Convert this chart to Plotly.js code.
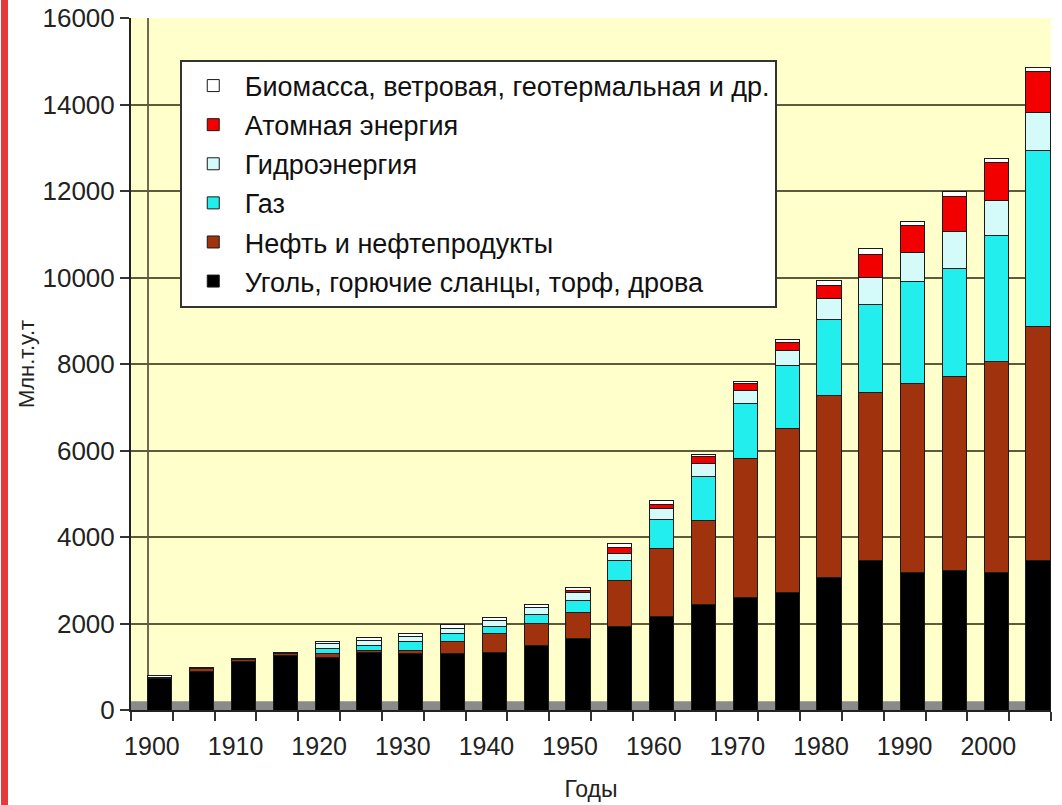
<!DOCTYPE html>
<html>
<head>
<meta charset="utf-8">
<script src="https://cdn.plot.ly/plotly-3.0.1.min.js"></script>
<style>
  html, body { margin:0; padding:0; background:#ffffff; }
  #chart { width:1062px; height:805px; }
  #stripe { position:absolute; left:1px; top:0; width:7px; height:805px; background:#e8393a; z-index:10; }
</style>
</head>
<body>
<div id="stripe"></div>
<div id="chart"></div>
<script>
// Years (every 5 years)
const years = [1900,1905,1910,1915,1920,1925,1930,1935,1940,1945,1950,1955,1960,1965,1970,1975,1980,1985,1990,1995,2000,2005];
const tickYears = [1900,1910,1920,1930,1940,1950,1960,1970,1980,1990,2000];

// Series names
const nameCoal  = "Уголь, горючие сланцы, торф, дрова";
const nameOil   = "Нефть и нефтепродукты";
const nameGas   = "Газ";
const nameHydro = "Гидроэнергия";
const nameNuc   = "Атомная энергия";
const nameBio   = "Биомасса, ветровая, геотермальная и др.";

// Values, млн т у.т.
const coal  = [720, 890,1110,1250,1220,1320,1300,1300,1340,1490,1650,1940,2170,2450,2590,2720,3070,3450,3190,3230,3190,3460];
const oil   = [ 40,  60,  50,  60,  80,  60,  80, 290, 420, 500, 610,1060,1560,1930,3230,3790,4200,3900,4350,4490,4860,5410];
const gas   = [  0,   0,   0,   0, 120, 110, 200, 170, 180, 210, 270, 460, 670,1020,1260,1450,1770,2020,2360,2490,2910,4070];
const hydro = [  0,   0,   0,   0, 110, 120, 120, 130, 130, 160, 180, 170, 250, 300, 300, 350, 470, 640, 680, 850, 810, 880];
const nuc   = [  0,   0,   0,   0,   0,   0,   0,   0,   0,   0,  60, 130, 110, 150, 160, 190, 310, 520, 630, 820, 880, 940];
const bio   = [ 40,  30,  30,  30,  60,  60,  60,  80,  80,  70,  70,  80,  80,  50,  50,  60, 100, 150,  80, 100, 110, 100];

const yTicks = [0,2000,4000,6000,8000,10000,12000,14000,16000];

function mk(name, vals, color, grp, rank) {
  return {
    type: 'bar', name: name, x: years, y: vals,
    legendgroup: grp, legendrank: rank,
    width: 2.9, offset: -0.5,
    marker: { color: color, line: { color: '#1a1a1a', width: 1 } },
    hoverinfo: 'x+y+name'
  };
}

const data = [
  mk(nameCoal, coal, '#000000', 'g1', 6),
  mk(nameOil, oil, '#A0330D', 'g2', 5),
  mk(nameGas, gas, '#22EEEE', 'g3', 4),
  mk(nameHydro, hydro, '#D4FAFA', 'g4', 3),
  mk(nameNuc, nuc, '#F20000', 'g5', 2),
  mk(nameBio, bio, '#FFFFFF', 'g6', 1)
];

const layout = {
  width: 1062, height: 805,
  margin: { l: 131, r: 11, t: 18, b: 95 },
  paper_bgcolor: '#ffffff',
  plot_bgcolor: '#FFFFCC',
  barmode: 'stack',
  font: { family: 'Liberation Sans, Arial, sans-serif', color: '#222' },
  showlegend: true,
  legend: {
    x: 0.053, y: 0.94, xanchor: 'left', yanchor: 'top',
    traceorder: 'grouped',
    bgcolor: '#ffffff', bordercolor: '#333333', borderwidth: 2,
    font: { size: 27, color: '#111' },
    tracegroupgap: 1, itemwidth: 53
  },
  xaxis: {
    range: [1897.5, 2007.5],
    tickmode: 'array', tickvals: tickYears, ticktext: tickYears.map(String),
    ticks: '', showgrid: false, zeroline: false,
    showline: true, linecolor: '#222', linewidth: 2,
    tickfont: { size: 25, color: '#222' },
    ticklabelstandoff: 13,
    minor: { ticks: 'outside', tick0: 1902.5, dtick: 5, ticklen: 9, tickwidth: 2, tickcolor: '#333', showgrid: false },
    title: { text: 'Годы', font: { size: 23, color: '#222' }, standoff: 22 }
  },
  yaxis: {
    range: [0, 16000],
    tickmode: 'array', tickvals: yTicks, ticktext: yTicks.map(String),
    ticks: 'outside', ticklen: 9, tickwidth: 2, tickcolor: '#333',
    showline: true, linecolor: '#222', linewidth: 2,
    showgrid: true, gridcolor: '#5E5A3C', gridwidth: 2,
    zeroline: false,
    tickfont: { size: 26, color: '#222' },
    title: { text: 'Млн.т.у.т', font: { size: 22, color: '#222' }, standoff: 2 }
  },
  shapes: [
    { type: 'rect', xref: 'paper', yref: 'y', x0: 0, x1: 1, y0: 0, y1: 200,
      fillcolor: '#8A8A8A', line: { width: 0 }, layer: 'below' },
    { type: 'line', xref: 'paper', yref: 'paper', x0: 0.0185, x1: 0.0185, y0: 0.015, y1: 1,
      line: { color: '#6b6b50', width: 2 }, layer: 'below' }
  ]
};

Plotly.newPlot('chart', data, layout, { staticPlot: true });
</script>
</body>
</html>
